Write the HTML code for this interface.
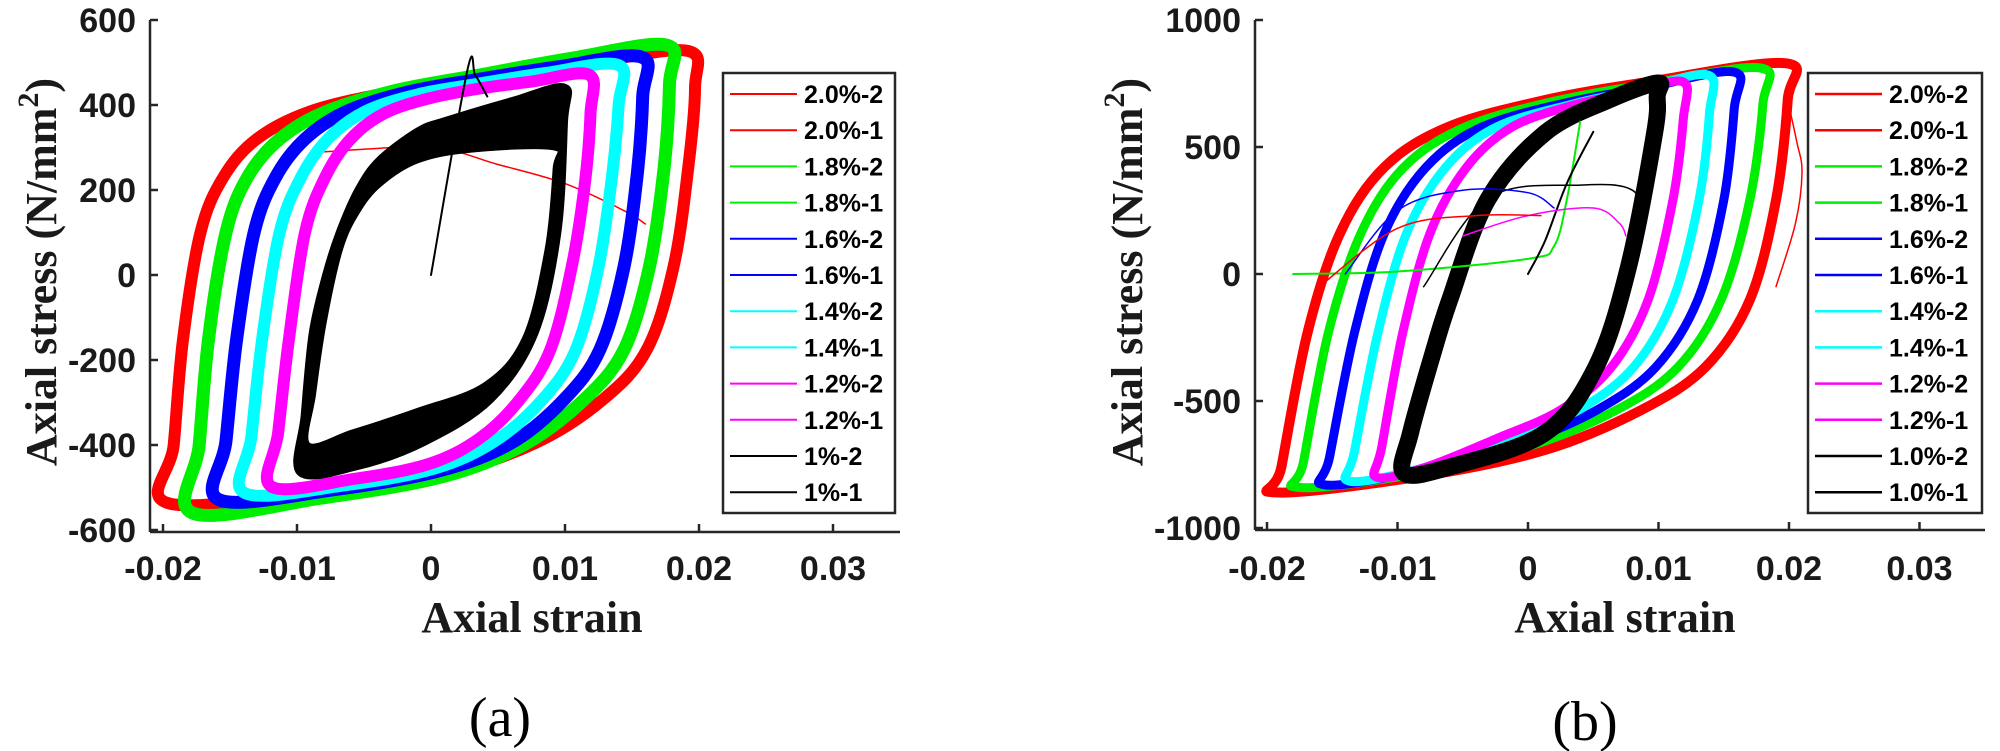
<!DOCTYPE html>
<html><head><meta charset="utf-8">
<style>
html,body{margin:0;padding:0;background:#fff;}
svg{display:block;}
.tick{font-family:"Liberation Sans",Arial,sans-serif;font-weight:bold;font-size:34px;fill:#1a1a1a;}
.leg{font-family:"Liberation Sans",Arial,sans-serif;font-weight:bold;font-size:25px;fill:#000;}
.ttl{font-family:"Liberation Serif","Times New Roman",serif;font-weight:bold;font-size:44px;fill:#1a1a1a;}
.cap{font-family:"Liberation Serif","Times New Roman",serif;font-size:56px;fill:#000;}
</style></head>
<body>
<svg id="fig" width="2000" height="751" viewBox="0 0 2000 751" xmlns="http://www.w3.org/2000/svg"></svg>
<script>
// ---------- DATA ----------
const seriesColors = ["#ff0000","#00ee00","#0000ff","#00ffff","#ff00ff","#000000"];
const legendLabelsA = ["2.0%-2","2.0%-1","1.8%-2","1.8%-1","1.6%-2","1.6%-1","1.4%-2","1.4%-1","1.2%-2","1.2%-1","1%-2","1%-1"];
const legendLabelsB = ["2.0%-2","2.0%-1","1.8%-2","1.8%-1","1.6%-2","1.6%-1","1.4%-2","1.4%-1","1.2%-2","1.2%-1","1.0%-2","1.0%-1"];
const xTicks = [-0.02,-0.01,0,0.01,0.02,0.03];
const xTickLabels = ["-0.02","-0.01","0","0.01","0.02","0.03"];
const yTicksA = [600,400,200,0,-200,-400,-600];
const yTicksB = [1000,500,0,-500,-1000];

// Chart (a) loops: strain / stress pairs
const aRedX = [-0.0197,-0.0192,-0.0185,-0.0172,-0.0155,-0.013,-0.009,-0.003,0.004,0.012,0.0192,0.0197,0.0192,0.0181,0.0161,0.0128,0.0078,0.0011,-0.0089];
const aRedY = [-536,-400,-150,100,230,320,385,430,465,500,527,440,254,19,-176,-294,-395,-466,-513];
const aGreenX = [-0.0178,-0.0173,-0.0166,-0.0153,-0.0137,-0.0113,-0.0078,-0.0025,0.0035,0.0105,0.0176,0.0178,0.0174,0.0163,0.0144,0.0114,0.0069,0.0008,-0.0082];
const aGreenY = [-560,-400,-150,100,230,320,385,435,470,510,541,450,254,19,-176,-294,-400,-475,-525];
const aBlueX = [-0.0158,-0.0153,-0.0145,-0.0132,-0.0116,-0.0094,-0.0063,-0.0018,0.0035,0.0095,0.0157,0.0158,0.0154,0.0144,0.0126,0.0099,0.006,0.0007,-0.0072];
const aBlueY = [-529,-390,-150,100,230,320,385,430,460,490,513,420,240,19,-176,-294,-395,-460,-505];
const aCyanX = [-0.0139,-0.0134,-0.0126,-0.0113,-0.0097,-0.0077,-0.0049,-0.001,0.0035,0.0085,0.014,0.014,0.0135,0.0125,0.0108,0.0083,0.0048,0.0003,-0.0065];
const aCyanY = [-513,-380,-150,100,230,320,385,425,450,475,494,400,230,19,-176,-294,-390,-455,-495];
const aMagX = [-0.0119,-0.0114,-0.0106,-0.0094,-0.0079,-0.006,-0.0035,-0.0002,0.0035,0.0075,0.0118,0.0119,0.0115,0.0105,0.0089,0.0066,0.0036,-0.0002,-0.0058];
const aMagY = [-498,-370,-150,100,230,320,380,415,438,455,471,380,220,19,-176,-294,-385,-445,-480];
const aBlackX = [-0.0098,-0.0095,-0.0089,-0.0079,-0.0069,-0.0055,-0.0039,-0.001,0.0011,0.0061,0.01,0.01,0.0095,0.0078,0.0045,-0.0005,-0.0055];
const aBlackY = [-466,-330,-137,0,99,200,271,340,365,412,443,360,99,-137,-294,-395,-452];
const aBlack2X = [-0.0092,-0.0088,-0.008,-0.0068,-0.0055,-0.0038,-0.001,0.003,0.0092,0.0093,0.0087,0.007,0.004,-0.001,-0.0058];
const aBlack2Y = [-400,-280,-110,60,150,215,270,295,300,250,60,-150,-260,-320,-370];
const aSpikeX = [0,0.0027,0.0033,0.0042];
const aSpikeY = [0,480,470,420];
const aRedTailX = [-0.008,0,0.005,0.01,0.0145,0.016];
const aRedTailY = [290,300,260,215,150,120];

// Chart (b) loops
const bRedX = [-0.0193,-0.0189,-0.0169,-0.0144,-0.011,-0.0061,0.0013,0.0087,0.0197,0.0199,0.019,0.017,0.0136,0.0087,0.0013,-0.0085];
const bRedY = [-860,-760,-232,161,421,579,685,752,830,685,291,-102,-366,-535,-693,-799];
const bGreenX = [-0.0176,-0.0172,-0.0153,-0.0128,-0.0095,-0.0048,0.002,0.009,0.0178,0.018,0.017,0.0148,0.0115,0.0068,0,-0.009];
const bGreenY = [-840,-740,-232,161,421,579,680,745,811,670,291,-102,-366,-535,-680,-790];
const bBlueX = [-0.0156,-0.0152,-0.0133,-0.011,-0.0078,-0.0035,0.003,0.0092,0.0158,0.0158,0.015,0.013,0.0098,0.0053,-0.0008,-0.0088];
const bBlueY = [-830,-720,-232,161,421,579,675,735,795,650,291,-102,-366,-535,-670,-780];
const bCyanX = [-0.0137,-0.0133,-0.0115,-0.0093,-0.0063,-0.0024,0.0035,0.0085,0.0138,0.0139,0.0131,0.0111,0.0081,0.0039,-0.0015,-0.0085];
const bCyanY = [-815,-700,-232,161,421,579,670,725,783,630,291,-102,-366,-535,-660,-770];
const bMagX = [-0.0116,-0.0112,-0.0096,-0.0075,-0.0047,-0.0012,0.0035,0.008,0.0119,0.0119,0.0111,0.0092,0.0064,0.0025,-0.0025,-0.0078];
const bMagY = [-800,-680,-232,161,421,579,665,715,756,610,291,-102,-366,-535,-650,-760];
const bBlackX = [-0.0095,-0.009,-0.0075,-0.006,-0.0031,0.0013,0.0062,0.0099,0.0099,0.0097,0.0077,0.0052,0.0013,-0.006];
const bBlackY = [-783,-626,-350,-102,291,555,685,752,700,555,28,-366,-626,-760];
const bGreenInitX = [-0.018,-0.01,0,0.002,0.003,0.004];
const bGreenInitY = [0,10,60,110,300,600];
const bBlackInitX = [0,0.0013,0.003,0.005];
const bBlackInitY = [0,130,360,560];
const bArcBlackX = [-0.008,-0.003,0.004,0.008,0.009];
const bArcBlackY = [-50,300,350,330,200];
const bArcMagX = [-0.005,0,0.005,0.007,0.0075];
const bArcMagY = [150,230,260,200,150];
const bArcBlueX = [-0.014,-0.01,-0.005,0,0.002];
const bArcBlueY = [0,250,330,320,260];
const bArcRedX = [-0.016,-0.01,-0.004,0.001];
const bArcRedY = [-50,180,230,230];
const bRedOuterX = [0.0199,0.0206,0.021,0.0205,0.019];
const bRedOuterY = [685,520,400,200,-50];

// ---------- RENDER ----------
const NS="http://www.w3.org/2000/svg";
const svg=document.getElementById('fig');
function mk(tag,attrs,parent){const e=document.createElementNS(NS,tag);for(const k in attrs)e.setAttribute(k,attrs[k]);(parent||svg).appendChild(e);return e;}

const axA={x0:431,kx:13400,y0:275,ky:0.425,left:150,right:900,top:20,bottom:532};
const axB={x0:1528,kx:13050,y0:274,ky:0.254,left:1255,right:1985,top:20,bottom:530};
function sx(ax,v){return ax.x0+v*ax.kx;}
function sy(ax,v){return ax.y0-v*ax.ky;}

function smoothPath(pts,closed){
  const n=pts.length;let d="M"+pts[0][0].toFixed(1)+","+pts[0][1].toFixed(1);
  const get=i=>closed?pts[(i+n)%n]:pts[Math.max(0,Math.min(n-1,i))];
  const segs=closed?n:n-1;
  for(let i=0;i<segs;i++){
    const p0=get(i-1),p1=get(i),p2=get(i+1),p3=get(i+2);
    const c1=[p1[0]+(p2[0]-p0[0])/6,p1[1]+(p2[1]-p0[1])/6];
    const c2=[p2[0]-(p3[0]-p1[0])/6,p2[1]-(p3[1]-p1[1])/6];
    d+=" C"+c1[0].toFixed(1)+","+c1[1].toFixed(1)+" "+c2[0].toFixed(1)+","+c2[1].toFixed(1)+" "+p2[0].toFixed(1)+","+p2[1].toFixed(1);
  }
  return d+(closed?" Z":"");
}
function toPts(ax,xs,ys){return xs.map((x,i)=>[sx(ax,x),sy(ax,ys[i])]);}
function drawCurve(g,ax,xs,ys,color,w,closed,name){
  const p=mk('path',{d:smoothPath(toPts(ax,xs,ys),closed),fill:'none',stroke:color,'stroke-width':w,'stroke-linejoin':'round','stroke-linecap':'round'},g);
  
  
  return p;
}
function drawBand(g,ax,xo,yo,xi,yi,color,w,name){
  const d=smoothPath(toPts(ax,xo,yo),true)+" "+smoothPath(toPts(ax,xi,yi),true);
  const p=mk('path',{d:d,fill:color,'fill-rule':'evenodd',stroke:color,'stroke-width':w,'stroke-linejoin':'round'},g);
  
  
  return p;
}

function drawAxes(ax,yTicks,yLabels,id){
  const g=mk('g',{});
  
  
  const yl=mk('line',{x1:ax.left,y1:ax.top,x2:ax.left,y2:ax.bottom,stroke:'#262626','stroke-width':2.5},g);
  
  
  const xl=mk('line',{x1:ax.left,y1:ax.bottom,x2:ax.right,y2:ax.bottom,stroke:'#262626','stroke-width':2.5},g);
  
  
  yTicks.forEach((v,i)=>{
    const y=sy(ax,v);
    mk('line',{x1:ax.left,y1:y,x2:ax.left+8,y2:y,stroke:'#262626','stroke-width':2.5},g);
    const t=mk('text',{x:ax.left-14,y:y+12,'text-anchor':'end',class:'tick'},g);
    t.textContent=yLabels[i];
    
    
  });
  xTicks.forEach((v,i)=>{
    const x=sx(ax,v);
    mk('line',{x1:x,y1:ax.bottom,x2:x,y2:ax.bottom-8,stroke:'#262626','stroke-width':2.5},g);
    const t=mk('text',{x:x,y:580,'text-anchor':'middle',class:'tick'},g);
    t.textContent=xTickLabels[i];
    
    
  });
}

function drawLegend(x0,x1,labels,id,thick){
  const g=mk('g',{});
  
  
  mk('rect',{x:x0,y:73,width:x1-x0,height:440,fill:'#fff',stroke:'#262626','stroke-width':2.5},g);
  labels.forEach((lab,i)=>{
    const y=94+i*36.2;
    const c=seriesColors[Math.floor(i/2)];
    const e=mk('g',{},g);
    
    
    mk('line',{x1:x0+7,y1:y,x2:x0+74,y2:y,stroke:c,'stroke-width':thick?2.5:2},e);
    const t=mk('text',{x:x0+81,y:y+9,class:'leg'},e);
    t.textContent=lab;
  });
}

// ----- Chart A -----
const gA=mk('g',{});


drawCurve(gA,axA,aRedTailX,aRedTailY,seriesColors[0],1.5,false,'series-2.0-tail');
drawCurve(gA,axA,aRedX,aRedY,seriesColors[0],12,true,'series-2.0');
drawCurve(gA,axA,aGreenX,aGreenY,seriesColors[1],13,true,'series-1.8');
drawCurve(gA,axA,aBlueX,aBlueY,seriesColors[2],13,true,'series-1.6');
drawCurve(gA,axA,aCyanX,aCyanY,seriesColors[3],12,true,'series-1.4');
drawCurve(gA,axA,aMagX,aMagY,seriesColors[4],12,true,'series-1.2');
drawBand(gA,axA,aBlackX,aBlackY,aBlack2X,aBlack2Y,seriesColors[5],6,'series-1.0-band');
drawCurve(gA,axA,aSpikeX,aSpikeY,seriesColors[5],2,false,'series-1.0-initial');
drawAxes(axA,yTicksA,yTicksA.map(String),'chart-a');
drawLegend(723,895,legendLabelsA,'chart-a',false);

// ----- Chart B -----
const gB=mk('g',{});


drawCurve(gB,axB,bRedOuterX,bRedOuterY,seriesColors[0],1.5,false,'series-2.0-outer');
drawCurve(gB,axB,bRedX,bRedY,seriesColors[0],10,true,'series-2.0');
drawCurve(gB,axB,bGreenX,bGreenY,seriesColors[1],9,true,'series-1.8');
drawCurve(gB,axB,bBlueX,bBlueY,seriesColors[2],9,true,'series-1.6');
drawCurve(gB,axB,bCyanX,bCyanY,seriesColors[3],9,true,'series-1.4');
drawCurve(gB,axB,bMagX,bMagY,seriesColors[4],9,true,'series-1.2');
drawCurve(gB,axB,bBlackX,bBlackY,seriesColors[5],17,true,'series-1.0');
drawCurve(gB,axB,bGreenInitX,bGreenInitY,seriesColors[1],2,false,'series-1.8-initial');
drawCurve(gB,axB,bBlackInitX,bBlackInitY,seriesColors[5],2,false,'series-1.0-initial');
drawCurve(gB,axB,bArcBlackX,bArcBlackY,seriesColors[5],1.5,false,'series-1.0-arc');
drawCurve(gB,axB,bArcMagX,bArcMagY,seriesColors[4],1.5,false,'series-1.2-arc');
drawCurve(gB,axB,bArcBlueX,bArcBlueY,seriesColors[2],1.5,false,'series-1.6-arc');
drawCurve(gB,axB,bArcRedX,bArcRedY,seriesColors[0],1.5,false,'series-2.0-arc');
drawAxes(axB,yTicksB,yTicksB.map(String),'chart-b');
drawLegend(1808,1982,legendLabelsB,'chart-b',true);

// ----- Titles -----
function ytitle(x,cy,id){
  const t=mk('text',{x:0,y:0,class:'ttl','text-anchor':'middle',transform:'translate('+x+','+cy+') rotate(-90)'});
  
  
  t.appendChild(document.createTextNode('Axial stress (N/mm'));
  const s=mk('tspan',{dy:-18,'font-size':30},t);s.textContent='2';
  const s2=mk('tspan',{dy:18},t);s2.textContent=')';
}
ytitle(56,272,'chart-a');
ytitle(1142,272,'chart-b');
function xtitle(cx,id){
  const t=mk('text',{x:cx,y:632,class:'ttl','text-anchor':'middle'});
  t.textContent='Axial strain';
  
  
}
xtitle(532,'chart-a');xtitle(1625,'chart-b');
const ca=mk('text',{x:500,y:736,class:'cap','text-anchor':'middle'});ca.textContent='(a)';


const cb=mk('text',{x:1585,y:740,class:'cap','text-anchor':'middle'});cb.textContent='(b)';


</script>
</body></html>
